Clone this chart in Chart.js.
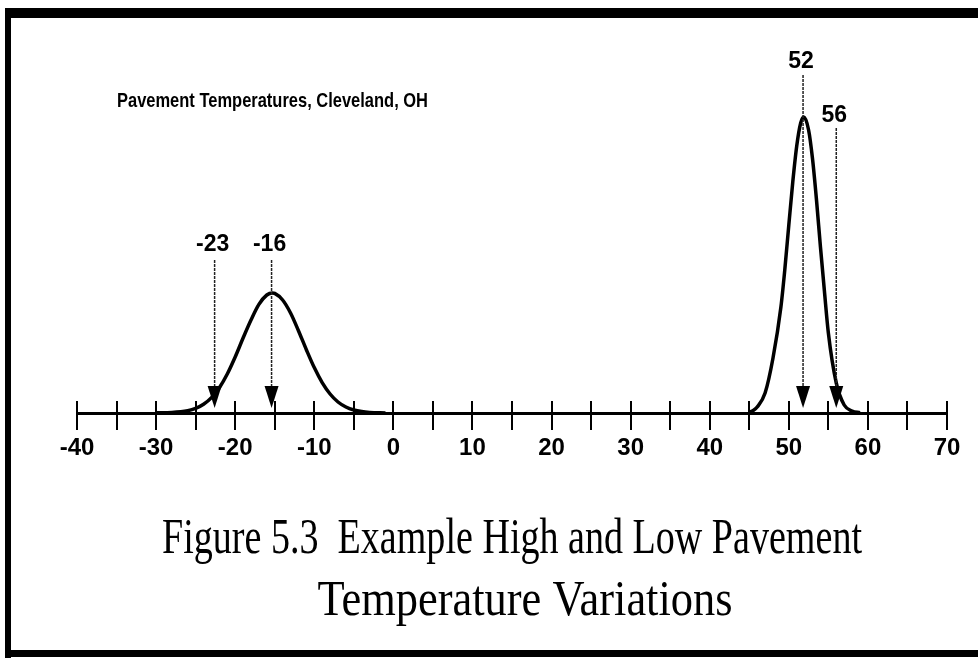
<!DOCTYPE html>
<html>
<head>
<meta charset="utf-8">
<script src="https://cdn.jsdelivr.net/npm/chart.js@4.4.0/dist/chart.umd.min.js"></script>
<style>
  html, body { margin: 0; padding: 0; background: #fff; }
  #wrap { width: 978px; height: 670px; position: relative; }
</style>
</head>
<body>
<div id="wrap"><canvas id="grafico"></canvas></div>
<script>
// pavement temperature (C) and curve height
lowTemp = [-30, -28, -26, -25, -24, -23, -22, -21, -20, -19, -18, -17, -16, -15.3, -15, -14, -13, -12, -11, -10, -9, -8, -7, -6, -5, -4, -3, -1]
lowHeight = [0.3, 0.6, 2.3, 4.6, 8.7, 15.4, 25.3, 39, 56, 75, 93, 108.6, 118, 120, 119.6, 113, 100, 82.3, 63.3, 45.4, 30.4, 19, 11, 6, 3, 1.4, 0.6, 0]

highTemp = [45, 45.5, 46, 47, 48, 49, 49.5, 50, 50.5, 51, 51.5, 51.9, 52.5, 53, 53.5, 54, 54.5, 55, 56, 57, 58, 59]
highHeight = [1, 2.5, 6, 20, 55, 106, 144, 188, 231, 267, 290, 296, 283, 254, 213, 166, 122, 80, 30, 8, 2, 0.3]

// arrows: where they point, their label, and how high the line starts
arrowTemp = [-22.6, -15.4, 51.8, 56.0]
arrowLabel = ['-23', '-16', '52', '56']
arrowTop = [153, 153, 338, 285]
labelHeight = [168, 168, 351, 297]

xTicks = [-40, -30, -20, -10, 0, 10, 20, 30, 40, 50, 60, 70]

chartTitle = 'Pavement Temperatures, Cleveland, OH'
caption = ['Figure 5.3  Example High and Low Pavement', 'Temperature Variations']

function pontos(xs, ys) {
	var out = []
	for (var i = 0; i < xs.length; i++) out.push({ x: xs[i], y: ys[i] })
	return out
}

// draws text squeezed to a given width
function textoLargura(ctx, txt, cx, y, largura, align) {
	var w = ctx.measureText(txt).width
	var e = largura / w
	ctx.save()
	ctx.translate(cx, y)
	ctx.scale(e, 1)
	ctx.textAlign = align
	ctx.fillText(txt, 0, 0)
	ctx.restore()
}

var desenho = {
	id: 'desenho',
	beforeDraw: function (chart) {
		var ctx = chart.ctx
		ctx.save()
		ctx.fillStyle = '#fff'
		ctx.fillRect(0, 0, chart.width, chart.height)
		// frame
		ctx.fillStyle = '#000'
		ctx.fillRect(5, 8, 973, 10)
		ctx.fillRect(5, 8, 6, 650)
		ctx.fillRect(5, 650, 973, 7)
		ctx.restore()
	},
	afterDraw: function (chart) {
		var ctx = chart.ctx
		var sx = chart.scales.x, sy = chart.scales.y
		var y0 = sy.getPixelForValue(0)
		ctx.save()
		// tick marks crossing the axis
		ctx.strokeStyle = '#000'
		ctx.lineWidth = 2
		for (var t = -40; t <= 70; t += 5) {
			var px = Math.round(sx.getPixelForValue(t))
			ctx.beginPath()
			ctx.moveTo(px, y0 - 12)
			ctx.lineTo(px, y0 + 17)
			ctx.stroke()
		}
		// arrows
		ctx.font = 'bold 23px "Liberation Sans", Arial, sans-serif'
		ctx.textAlign = 'center'
		ctx.textBaseline = 'middle'
		for (var i = 0; i < arrowTemp.length; i++) {
			var ax = sx.getPixelForValue(arrowTemp[i])
			var top = sy.getPixelForValue(arrowTop[i])
			var tip = sy.getPixelForValue(5)
			ctx.strokeStyle = '#222'
			ctx.lineWidth = 1.5
			ctx.setLineDash([3, 1])
			ctx.beginPath()
			ctx.moveTo(ax, top)
			ctx.lineTo(ax, tip - 18)
			ctx.stroke()
			ctx.setLineDash([])
			ctx.fillStyle = '#000'
			ctx.beginPath()
			ctx.moveTo(ax - 7, tip - 22)
			ctx.lineTo(ax + 7, tip - 22)
			ctx.lineTo(ax, tip)
			ctx.closePath()
			ctx.fill()
			ctx.fillText(arrowLabel[i], ax - 2, sy.getPixelForValue(labelHeight[i]))
		}
		// chart title
		ctx.font = 'bold 21px "Liberation Sans", Arial, sans-serif'
		textoLargura(ctx, chartTitle, 117, 101, 311, 'left')
		// figure caption, narrow serif
		ctx.font = '51px "Liberation Serif", "Times New Roman", serif'
		ctx.textBaseline = 'alphabetic'
		textoLargura(ctx, caption[0], 512, 553, 700, 'center')
		textoLargura(ctx, caption[1], 525, 615, 415, 'center')
		ctx.restore()
	}
}

function geraGrafico() {
	var config = {
		type: 'scatter',
		data: {
			datasets: [{
				label: 'Low',
				data: pontos(lowTemp, lowHeight),
				showLine: true,
				borderColor: '#000',
				borderWidth: 3.5,
				pointRadius: 0,
				cubicInterpolationMode: 'monotone',
				fill: false
			}, {
				label: 'High',
				data: pontos(highTemp, highHeight),
				showLine: true,
				borderColor: '#000',
				borderWidth: 3.5,
				pointRadius: 0,
				cubicInterpolationMode: 'monotone',
				fill: false
			}]
		},
		options: {
			responsive: false,
			animation: false,
			layout: { padding: { left: 77, right: 31, top: 0, bottom: 0 } },
			plugins: {
				legend: { display: false },
				tooltip: { enabled: false },
				title: { display: false }
			},
			scales: {
				x: {
					type: 'linear',
					position: { y: 0 },
					min: -40,
					max: 70,
					afterBuildTicks: function (scale) {
						scale.ticks = xTicks.map(function (v) { return { value: v } })
					},
					afterFit: function (scale) {
						scale.paddingLeft = 0
						scale.paddingRight = 0
					},
					grid: { display: false, drawTicks: false },
					border: { display: true, color: '#000', width: 3 },
					ticks: {
						color: '#000',
						padding: 21,
						maxRotation: 0,
						autoSkip: false,
						font: { family: '"Liberation Sans", Arial, sans-serif', size: 24, weight: 'bold' },
						callback: function (v) { return String(v) }
					}
				},
				y: {
					display: false,
					min: -257,
					max: 413
				}
			}
		},
		plugins: [desenho]
	}
	var canvas = document.getElementById('grafico')
	canvas.width = 978
	canvas.height = 670
	window.grafico = new Chart(canvas.getContext('2d'), config)
}

geraGrafico()
</script>
</body>
</html>
